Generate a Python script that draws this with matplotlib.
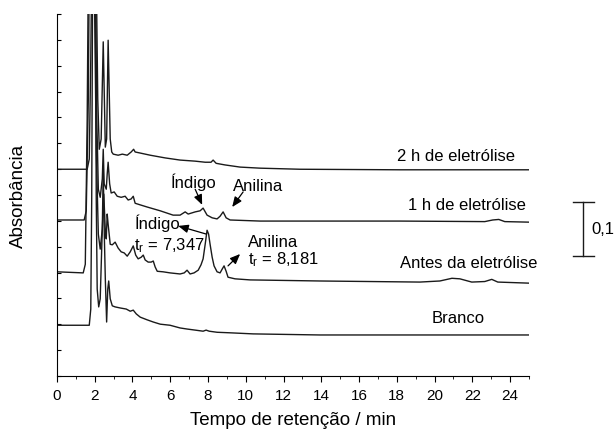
import matplotlib
matplotlib.use("Agg")
import matplotlib.pyplot as plt
import numpy as np

plt.rcParams['font.family'] = ['Liberation Sans', 'DejaVu Sans']

# cromatogramas (tempo em min, absorbancia com deslocamento)
t_2h = [0, 1.60, 1.71, 1.79, 1.84, 2.08, 2.16, 2.24, 2.34, 2.45, 2.56, 2.63, 2.71, 2.82, 2.90, 2.98,
        3.24, 3.46, 3.72, 3.93, 4.06, 4.14, 4.41, 4.94, 5.73, 6.52, 7.32, 7.85, 8.16, 8.27, 8.43,
        8.90, 9.70, 10.76, 12.87, 18.16, 25]
a_2h = [0.383, 0.383, 0.402, 0.587, 0.75, 0.75, 0.513, 0.420, 0.439, 0.619, 0.424, 0.439, 0.622,
        0.439, 0.415, 0.411, 0.409, 0.411, 0.409, 0.415, 0.420, 0.415, 0.413, 0.409, 0.404, 0.400,
        0.398, 0.396, 0.396, 0.400, 0.394, 0.391, 0.387, 0.385, 0.383, 0.382, 0.382]

t_1h = [0, 1.44, 1.55, 1.66, 1.71, 2.03, 2.11, 2.19, 2.29, 2.40, 2.45, 2.50, 2.61, 2.66, 2.71, 2.79,
        2.87, 3.03, 3.19, 3.40, 3.61, 3.77, 3.93, 4.04, 4.14, 4.41, 4.78, 5.47, 6.15, 6.52, 6.79,
        6.95, 7.32, 7.58, 7.74, 7.95, 8.22, 8.48, 8.64, 8.80, 8.96, 9.17, 10.76, 18.16, 22.66,
        23.08, 23.40, 23.72, 25]
a_1h = [0.289, 0.289, 0.306, 0.513, 0.75, 0.75, 0.476, 0.346, 0.331, 0.365, 0.420, 0.356, 0.346,
        0.374, 0.396, 0.356, 0.339, 0.341, 0.333, 0.331, 0.333, 0.326, 0.328, 0.333, 0.320, 0.317,
        0.313, 0.306, 0.298, 0.298, 0.304, 0.300, 0.304, 0.306, 0.311, 0.298, 0.293, 0.291, 0.296,
        0.304, 0.293, 0.289, 0.287, 0.287, 0.286, 0.289, 0.290, 0.286, 0.285]

t_antes = [0, 1.39, 1.50, 1.60, 1.66, 1.97, 2.08, 2.19, 2.29, 2.40, 2.48, 2.56, 2.61, 2.66, 2.71,
           2.82, 2.93, 3.08, 3.24, 3.40, 3.56, 3.72, 3.88, 4.04, 4.17, 4.30, 4.46, 4.57, 4.67, 4.83,
           4.99, 5.10, 5.20, 5.31, 5.62, 5.99, 6.52, 6.74, 6.89, 7.05, 7.26, 7.48, 7.63, 7.74, 7.85,
           7.95, 8.03, 8.11, 8.22, 8.32, 8.48, 8.64, 8.75, 8.85, 8.96, 9.06, 9.43, 10.23, 13.93,
           19.22, 20.28, 20.92, 21.34, 21.97, 22.66, 23.03, 23.35, 25]
a_antes = [0.193, 0.191, 0.207, 0.476, 0.75, 0.75, 0.420, 0.263, 0.235, 0.272, 0.337, 0.269, 0.254,
           0.300, 0.281, 0.244, 0.243, 0.248, 0.237, 0.230, 0.228, 0.222, 0.230, 0.241, 0.224,
           0.217, 0.220, 0.224, 0.215, 0.211, 0.211, 0.213, 0.202, 0.194, 0.193, 0.191, 0.189,
           0.191, 0.196, 0.189, 0.191, 0.196, 0.206, 0.217, 0.244, 0.270, 0.263, 0.244, 0.220,
           0.204, 0.193, 0.191, 0.198, 0.204, 0.194, 0.183, 0.180, 0.178, 0.176, 0.174, 0.176,
           0.181, 0.180, 0.174, 0.175, 0.179, 0.174, 0.172]

t_branco = [0, 1.71, 1.79, 1.84, 1.89, 2.03, 2.08, 2.13, 2.21, 2.29, 2.40, 2.45, 2.50, 2.56, 2.63,
            2.69, 2.74, 2.82, 2.93, 3.08, 3.35, 3.67, 3.88, 4.04, 4.20, 4.41, 4.78, 5.10, 5.47,
            5.99, 6.52, 6.89, 7.32, 7.74, 7.90, 8.06, 8.48, 9.17, 10.39, 13.93, 25]
a_branco = [0.094, 0.094, 0.124, 0.328, 0.75, 0.75, 0.328, 0.161, 0.128, 0.143, 0.272, 0.383, 0.272,
            0.180, 0.100, 0.161, 0.176, 0.143, 0.130, 0.128, 0.126, 0.124, 0.120, 0.122, 0.115,
            0.109, 0.104, 0.100, 0.096, 0.094, 0.089, 0.087, 0.085, 0.083, 0.085, 0.083, 0.081,
            0.080, 0.078, 0.076, 0.076]

rotulos = ['2 h de eletrólise', '1 h de eletrólise', 'Antes da eletrólise', 'Branco']
escala = 0.1  # barra de escala de absorbancia

fig = plt.figure(figsize=(6.16, 4.31), dpi=100)
ax = fig.add_axes([0.0925, 0.1253, 0.7662, 0.8399])

cor = '#1a1a1a'
for t, a in [(t_2h, a_2h), (t_1h, a_1h), (t_antes, a_antes), (t_branco, a_branco)]:
    ax.plot(t, a, color=cor, lw=1.0)

ax.set_xlim(0, 25)
ax.set_ylim(0, 0.67)
ax.spines['top'].set_visible(False)
ax.spines['right'].set_visible(False)
ax.set_xticks(np.arange(0, 25, 2))
ax.set_xticks(np.arange(0, 26, 1), minor=True)
ax.set_yticks(np.arange(0, 0.68, 0.0479))
ax.set_yticklabels([])
ax.tick_params(axis='x', which='major', direction='out', length=4, labelsize=11, pad=5)
ax.tick_params(axis='x', which='minor', direction='out', length=2.5)
ax.tick_params(axis='y', direction='in', length=3)
ax.set_xlabel('Tempo de retenção / min', fontsize=13.5, labelpad=6)
ax.set_ylabel('Absorbância', fontsize=13.5, labelpad=18)

# rotulos das curvas
ax.text(21.13, 0.409, rotulos[0], fontsize=12, ha='center', va='center')
ax.text(21.71, 0.317, rotulos[1], fontsize=12, ha='center', va='center')
ax.text(21.81, 0.211, rotulos[2], fontsize=12, ha='center', va='center')
ax.text(21.23, 0.109, rotulos[3], fontsize=12, ha='center', va='center')

seta = dict(arrowstyle='-|>,head_length=0.6,head_width=0.25', color='black', lw=0.9,
            shrinkA=0, shrinkB=0)
ax.text(7.27, 0.361, 'Índigo', fontsize=12, ha='center', va='center')
ax.annotate('', xy=(7.69, 0.317), xytext=(7.32, 0.346), arrowprops=seta)
ax.text(10.65, 0.352, 'Anilina', fontsize=12, ha='center', va='center')
ax.annotate('', xy=(9.28, 0.313), xytext=(9.86, 0.341), arrowprops=seta)

ax.text(4.10, 0.285, 'Índigo', fontsize=12, ha='left', va='center')
ax.text(4.10, 0.244, r'$\mathregular{t_r}$ = 7,347', fontsize=12, ha='left', va='center')
ax.annotate('', xy=(6.42, 0.278), xytext=(7.90, 0.263), arrowprops=seta)
ax.text(10.12, 0.250, 'Anilina', fontsize=12, ha='left', va='center')
ax.text(10.12, 0.217, r'$\mathregular{t_r}$ = 8,181', fontsize=12, ha='left', va='center')
ax.annotate('', xy=(9.70, 0.226), xytext=(9.06, 0.204), arrowprops=seta)

# barra de escala fora dos eixos
y0 = 0.222
ax.plot([27.85, 27.85], [y0, y0 + escala], color=cor, lw=1.0, clip_on=False)
ax.plot([27.32, 28.45], [y0, y0], color=cor, lw=1.0, clip_on=False)
ax.plot([27.32, 28.45], [y0 + escala, y0 + escala], color=cor, lw=1.0, clip_on=False)
fig.text(0.997, (431 - 230) / 431, '0,1', fontsize=12, ha='right', va='center')

fig.savefig('out.png', dpi=100)
